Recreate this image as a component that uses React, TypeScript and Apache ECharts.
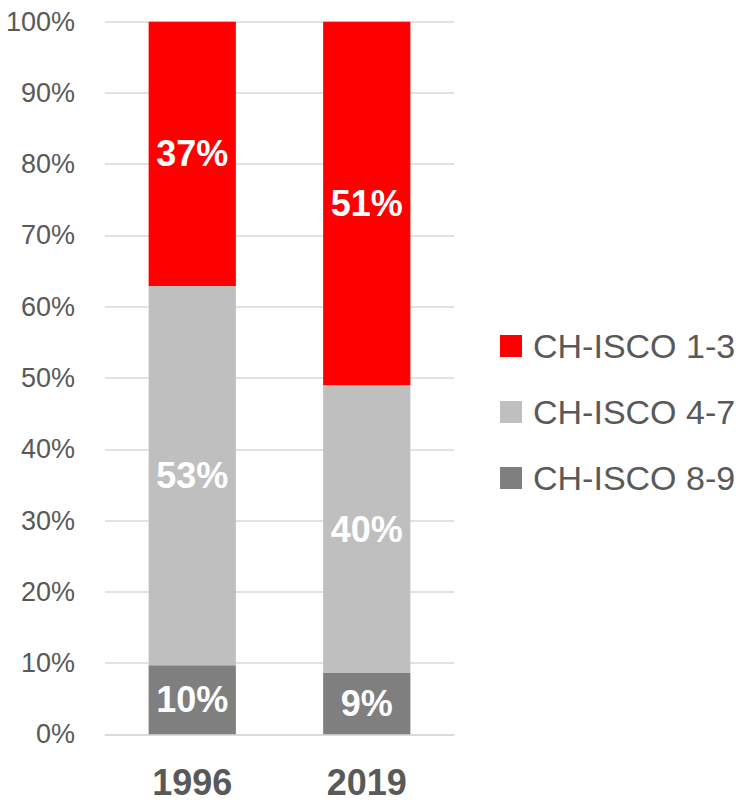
import React, { useEffect, useRef } from "react";
import * as echarts from "echarts";

const categories = ["1996", "2019"];
const seriesNames = ["CH-ISCO 1-3", "CH-ISCO 4-7", "CH-ISCO 8-9"];
const isco89 = [9.7, 8.6];
const isco47 = [53.2, 40.4];
const isco13 = [37.1, 51.0];
const colors = ["#ff0000", "#bfbfbf", "#7f7f7f"];
const yTicks = [0, 10, 20, 30, 40, 50, 60, 70, 80, 90, 100];

const SANS = "'Liberation Sans', Arial, sans-serif";

export default function App() {
  const ref = useRef<HTMLDivElement>(null);
  useEffect(() => {
    if (!ref.current) return;
    const chart = echarts.init(ref.current, null, { renderer: "svg" });
    const label = {
      show: true,
      position: "inside",
      color: "#ffffff",
      fontFamily: SANS,
      fontWeight: "bold",
      fontSize: 36,
      formatter: (p: any) => Math.round(p.value) + "%",
    };
    const mk = (name: string, data: number[], color: string) => ({
      name,
      type: "bar",
      stack: "total",
      data,
      barWidth: "50%",
      itemStyle: { color },
      label,
    });
    chart.setOption({
      animation: false,
      grid: { left: 105, right: 290, top: 21.7, bottom: 68.7 },
      legend: {
        orient: "vertical",
        left: 495,
        top: 324,
        data: seriesNames,
        icon: "rect",
        itemWidth: 22,
        itemHeight: 22,
        itemGap: 32,
        textStyle: {
          fontFamily: SANS,
          fontSize: 34,
          lineHeight: 32,
          color: "#595959",
          padding: [0, 0, 0, 6],
        },
      },
      xAxis: {
        type: "category",
        data: categories,
        axisLine: { show: true, lineStyle: { color: "#d9d9d9", width: 1.5 } },
        axisTick: { show: false },
        axisLabel: {
          margin: 31,
          fontFamily: SANS,
          fontWeight: "bold",
          fontSize: 36,
          lineHeight: 34,
          color: "#595959",
        },
      },
      yAxis: {
        type: "value",
        min: yTicks[0],
        max: yTicks[yTicks.length - 1],
        interval: 10,
        axisLine: { show: false },
        axisTick: { show: false },
        splitLine: { lineStyle: { color: "#d9d9d9", width: 1.5 } },
        axisLabel: {
          margin: 30,
          fontFamily: SANS,
          fontSize: 27,
          color: "#595959",
          formatter: (v: number) => v + "%",
        },
      },
      series: [
        mk(seriesNames[2], isco89, colors[2]),
        mk(seriesNames[1], isco47, colors[1]),
        mk(seriesNames[0], isco13, colors[0]),
      ],
    });
    return () => chart.dispose();
  }, []);
  return (
    <div
      ref={ref}
      style={{ position: "fixed", left: 0, top: 0, width: 744, height: 803, background: "#fff" }}
    />
  );
}
